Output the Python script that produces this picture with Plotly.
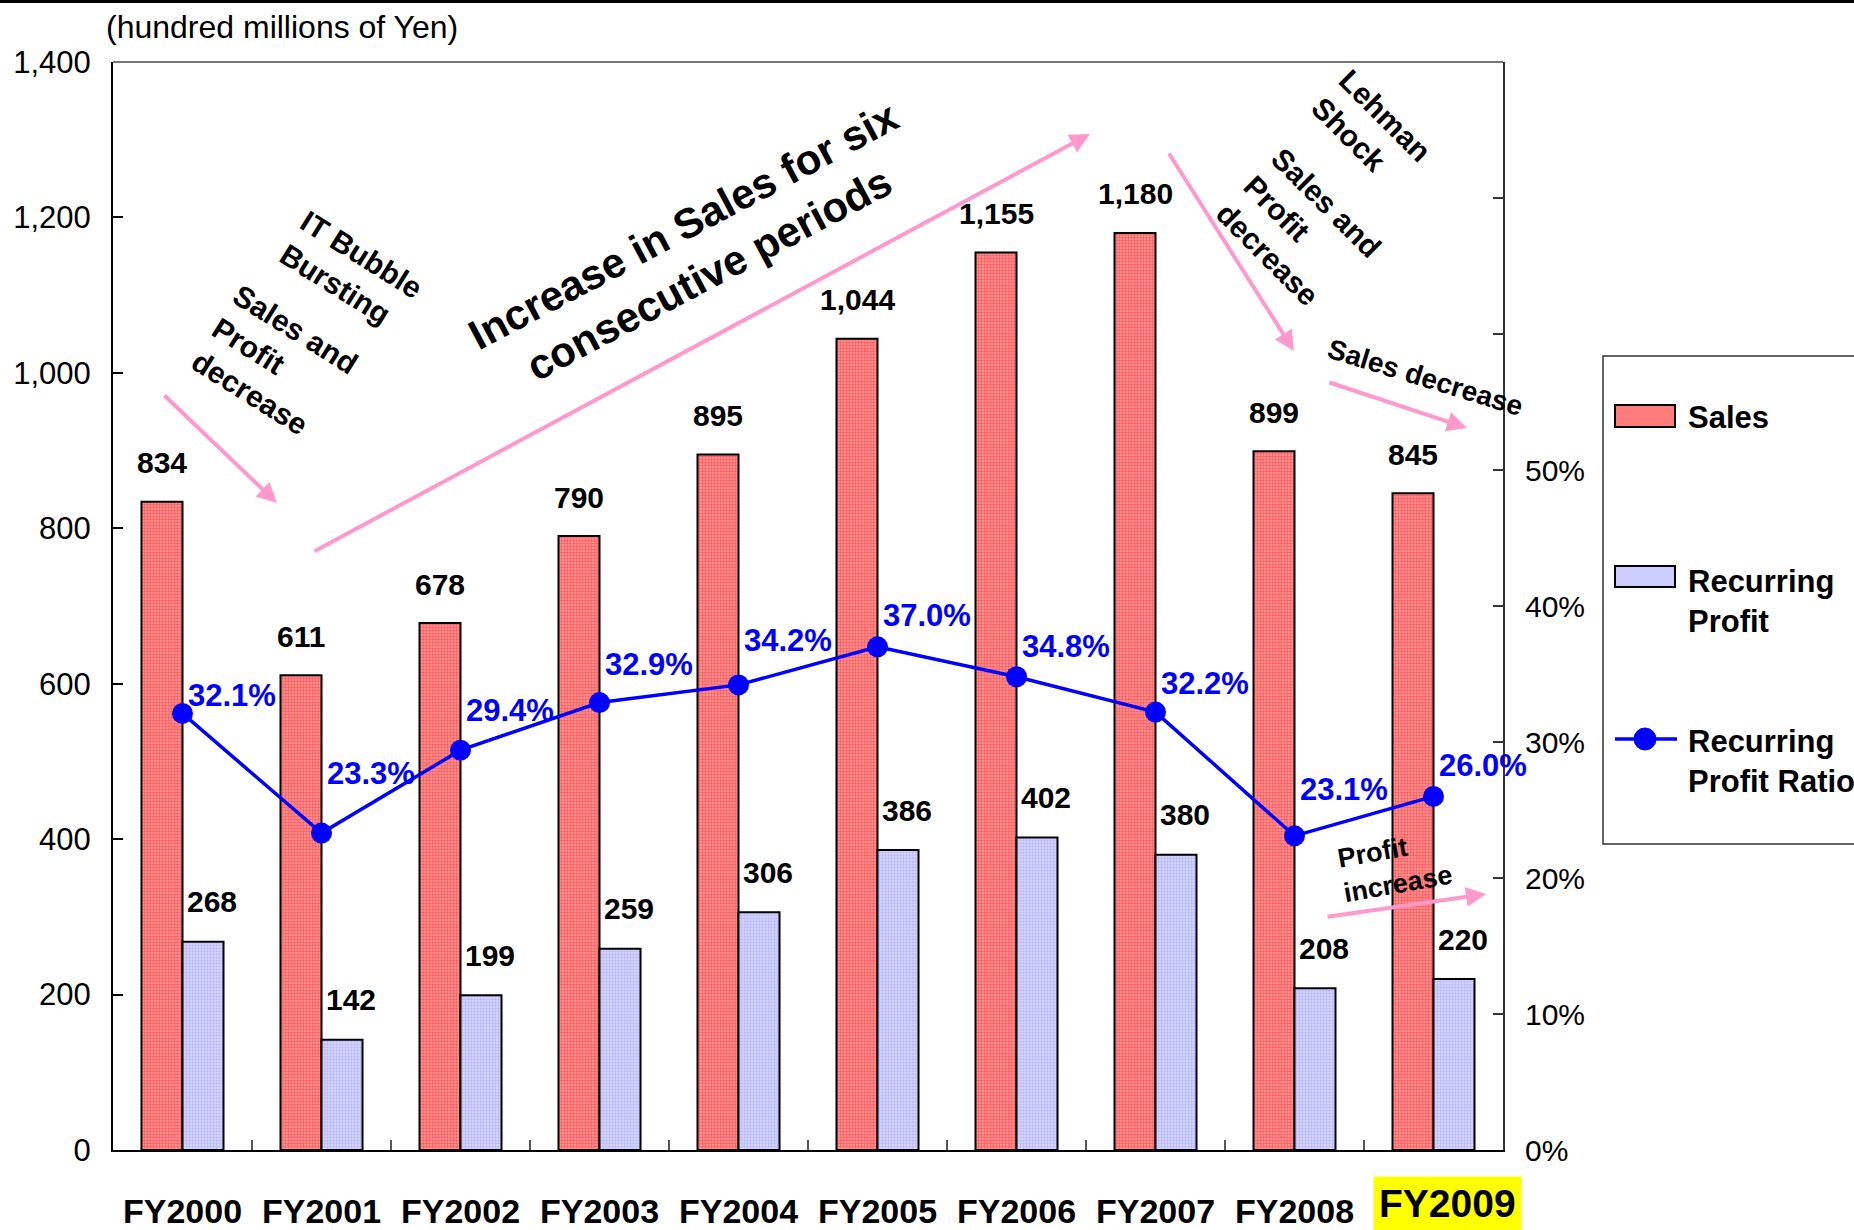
import plotly.graph_objects as go

# ---------------- data ----------------
years = ["FY2000", "FY2001", "FY2002", "FY2003", "FY2004",
         "FY2005", "FY2006", "FY2007", "FY2008", "FY2009"]
sales = [834, 611, 678, 790, 895, 1044, 1155, 1180, 899, 845]
profit = [268, 142, 199, 259, 306, 386, 402, 380, 208, 220]
ratio_pct = [32.1, 23.3, 29.4, 32.9, 34.2, 37.0, 34.8, 32.2, 23.1, 26.0]
left_ticks = [0, 200, 400, 600, 800, 1000, 1200, 1400]
right_ticks = [0, 10, 20, 30, 40, 50, 60, 70, 80]
right_tick_labels = ["0%", "10%", "20%", "30%", "40%", "50%", "", "", ""]
ratio_label_dy = [18, 60, 40, 38, 44, 31, 30, 29, 46, 31]

# ---------------- geometry helpers ----------------
W, H = 1854, 1230
L, R, T, B = 113, 351, 62, 80
PW, PH = W - L - R, H - T - B


def px(x):
    return (x - L) / PW


def py(y):
    return (H - B - y) / PH


FONT = "Liberation Sans, Arial, sans-serif"
PINK = "#FF99CC"
BLUE = "#0000FF"

fig = go.Figure()

fig.add_trace(go.Bar(
    x=years, y=sales, name="Sales",
    marker=dict(color="#FF8E8E", line=dict(color="black", width=2),
                pattern=dict(shape=".", fgcolor="#FF1A1A", bgcolor="#FF9C9C",
                             size=3, solidity=0.5, fillmode="overlay")),
    showlegend=False,
))
fig.add_trace(go.Bar(
    x=years, y=profit, name="Recurring Profit",
    marker=dict(color="#D8D8FF", line=dict(color="black", width=2),
                pattern=dict(shape=".", fgcolor="#9494FF", bgcolor="#DCDCFF",
                             size=3, solidity=0.5, fillmode="overlay")),
    showlegend=False,
))
fig.add_trace(go.Scatter(
    x=years, y=[r / 100 for r in ratio_pct], name="Recurring Profit Ratio",
    yaxis="y2", mode="lines+markers",
    line=dict(color=BLUE, width=3.5),
    marker=dict(color=BLUE, size=21),
    showlegend=False,
))

annotations = []
# value labels
for yr, v in zip(years, sales):
    annotations.append(dict(x=yr, y=v, xref="x", yref="y", text=f"{v:,}",
                            xanchor="center", yanchor="middle",
                            showarrow=False, xshift=-20.5, yshift=39,
                            font=dict(family=FONT, size=30, color="black", weight="bold")))
for yr, v in zip(years, profit):
    annotations.append(dict(x=yr, y=v, xref="x", yref="y", text=f"{v:,}",
                            xanchor="center", yanchor="middle",
                            showarrow=False, xshift=29, yshift=40,
                            font=dict(family=FONT, size=30, color="black", weight="bold")))
for yr, v, dy in zip(years, ratio_pct, ratio_label_dy):
    annotations.append(dict(x=yr, y=v / 100, xref="x", yref="y2", text=f"{v:.1f}%",
                            xanchor="center", yanchor="middle",
                            showarrow=False, xshift=49, yshift=dy,
                            font=dict(family=FONT, size=31, color=BLUE, weight="bold")))

# FY2009 highlighted label
annotations.append(dict(x="FY2009", xref="x", y=py(1203), yref="paper", text="FY2009",
                        xanchor="center", yanchor="middle",
                        showarrow=False, xshift=14, bgcolor="#FFFF00", borderpad=5,
                        font=dict(family=FONT, size=39, color="black", weight="bold")))

# unit label
annotations.append(dict(x=px(104), y=py(27), xref="paper", yref="paper",
                        xanchor="left", yanchor="middle", showarrow=False,
                        text="(hundred millions of Yen)",
                        font=dict(family=FONT, size=32, color="black")))


def rot_text(cx, cy, text, angle, size, align="left"):
    annotations.append(dict(x=px(cx), y=py(cy), xref="paper", yref="paper",
                            xanchor="center", yanchor="middle",
                            text=text, textangle=angle, showarrow=False, align=align,
                            font=dict(family=FONT, size=size, color="black", weight="bold")))


rot_text(351, 271, "IT Bubble<br>Bursting", 32, 30)
rot_text(275, 362, "Sales and<br>Profit<br>decrease", 32, 30)
rot_text(696, 250, "Increase in Sales for six<br>consecutive periods", -28, 42, align="center")
rot_text(1371, 129, "Lehman<br>Shock", 45, 30)
rot_text(1299, 230, "Sales and<br>Profit<br>decrease", 45, 30)
rot_text(1425, 378, "Sales decrease", 17, 28)
rot_text(1395, 866, "Profit<br>increase", -10, 27)


def arrow(x0, y0, x1, y1):
    annotations.append(dict(x=px(x1), y=py(y1), xref="paper", yref="paper",
                            ax=x0 - x1, ay=y0 - y1, axref="pixel", ayref="pixel",
                            text="", showarrow=True, arrowhead=2, arrowsize=1.0,
                            arrowwidth=4, arrowcolor=PINK, standoff=0))


arrow(163, 394, 277, 503)
arrow(313, 552, 1090, 134)
arrow(1168, 152, 1294, 351)
arrow(1328, 382, 1467, 428)
arrow(1326, 917, 1486, 894)

# custom legend texts
LEG_FONT = dict(family=FONT, size=31, color="black", weight="bold")
for ly, txt in [(417, "Sales"), (601, "Recurring<br>Profit"), (761, "Recurring<br>Profit Ratio")]:
    annotations.append(dict(x=px(1686), y=py(ly), xref="paper", yref="paper",
                            xanchor="left", yanchor="middle",
                            showarrow=False, text=txt, align="left", font=LEG_FONT))

shapes = [
    # top black border of the image
    dict(type="line", xref="paper", yref="paper", x0=px(0), x1=px(W), y0=py(1.5), y1=py(1.5),
         line=dict(color="black", width=3)),
    # top frame of plot area
    dict(type="line", xref="paper", yref="paper", x0=0, x1=1, y0=1, y1=1,
         line=dict(color="#777777", width=2)),
    # legend box
    dict(type="rect", xref="paper", yref="paper", x0=px(1603), x1=px(1880), y0=py(844), y1=py(356),
         line=dict(color="#333333", width=1.5)),
    dict(type="rect", xref="paper", yref="paper", x0=px(1615), x1=px(1675), y0=py(427), y1=py(405),
         fillcolor="#FF7C7C", line=dict(color="black", width=2)),
    dict(type="rect", xref="paper", yref="paper", x0=px(1615), x1=px(1675), y0=py(587), y1=py(566),
         fillcolor="#CCCCFF", line=dict(color="black", width=2)),
    dict(type="line", xref="paper", yref="paper", x0=px(1615), x1=px(1677), y0=py(739), y1=py(739),
         line=dict(color=BLUE, width=3.5)),
    dict(type="circle", xref="paper", yref="paper", x0=px(1634), x1=px(1656), y0=py(750), y1=py(728),
         fillcolor=BLUE, line=dict(color=BLUE, width=1)),
]

fig.update_layout(
    width=W, height=H,
    margin=dict(l=L, r=R, t=T, b=B, autoexpand=False),
    paper_bgcolor="white", plot_bgcolor="white",
    barmode="group", bargap=0.41, bargroupgap=0,
    showlegend=False,
    xaxis=dict(type="category", tickvals=years, range=[-0.5, len(years) - 0.5],
               ticktext=[y if y != "FY2009" else "" for y in years],
               tickson="boundaries", ticks="inside", ticklen=10, tickcolor="#555555", tickwidth=1.5,
               showline=True, linecolor="black", linewidth=2, showgrid=False,
               tickangle=0, automargin=False,
               tickfont=dict(family=FONT, size=34, color="black", weight="bold"),
               ticklabelstandoff=30),
    yaxis=dict(range=[0, 1400], tickvals=left_ticks, tickformat=",",
               ticks="inside", ticklen=10, tickcolor="black", tickwidth=1.5,
               showline=True, linecolor="black", linewidth=2, showgrid=False, zeroline=False,
               automargin=False,
               tickfont=dict(family=FONT, size=31, color="black"),
               ticklabelstandoff=14),
    yaxis2=dict(range=[0, 0.8], overlaying="y", side="right",
                tickvals=[t / 100 for t in right_ticks], ticktext=right_tick_labels,
                ticks="inside", ticklen=10, tickcolor="#333333", tickwidth=1.5,
                showline=True, linecolor="#333333", linewidth=2, showgrid=False, zeroline=False,
                automargin=False,
                tickfont=dict(family=FONT, size=30, color="black"),
                ticklabelstandoff=14),
    annotations=annotations,
    shapes=shapes,
)

fig.write_html("out.html")
